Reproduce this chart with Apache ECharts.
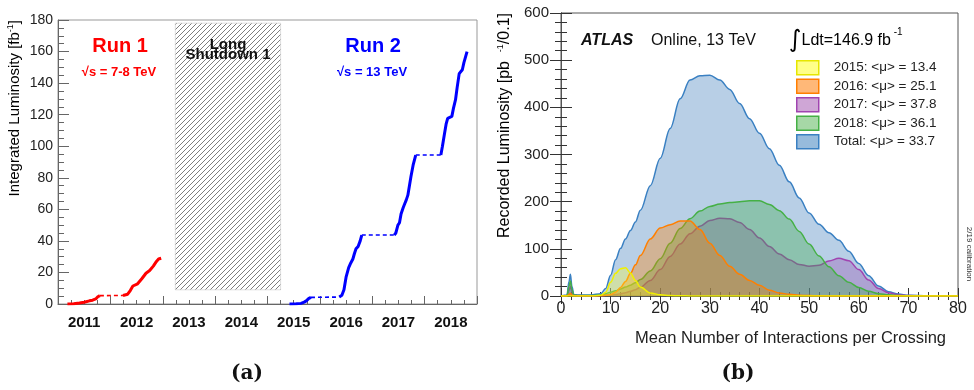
<!DOCTYPE html>
<html>
<head>
<meta charset="utf-8">
<script src="https://cdn.jsdelivr.net/npm/echarts@6/dist/echarts.min.js"></script>
<style>
  html, body { margin: 0; padding: 0; background: #fff; }
  #chart { width: 974px; height: 390px; }
</style>
</head>
<body>
<div id="chart"></div>
<script>
// ---------- Panel (a): cumulative integrated luminosity, [decimal year, fb^-1] ----------
const run1Year2011 = [[2011.18, 0], [2011.30, 0.1], [2011.41, 0.6], [2011.50, 1.1], [2011.60, 2.0],
  [2011.66, 2.4], [2011.72, 3.2], [2011.76, 4.6], [2011.80, 5.3]];
const run1Pause = [[2011.80, 5.3], [2012.24, 5.4]];
const run1Year2012 = [[2012.24, 5.4], [2012.33, 6.2], [2012.38, 8.5], [2012.43, 11.4], [2012.52, 12.8],
  [2012.60, 16.0], [2012.68, 19.5], [2012.75, 21.2], [2012.82, 24.0], [2012.88, 27.0], [2012.92, 28.5], [2012.97, 29.0]];

const run2Year2015 = [[2015.42, 0], [2015.55, 0.1], [2015.64, 0.4], [2015.70, 1.2], [2015.74, 2.0],
  [2015.79, 3.6], [2015.83, 4.2]];
const run2Pause2016 = [[2015.83, 4.2], [2016.37, 4.4]];
const run2Year2016 = [[2016.37, 4.4], [2016.42, 5.5], [2016.46, 9.0], [2016.50, 17.0], [2016.55, 23.0],
  [2016.59, 26.0], [2016.63, 28.5], [2016.66, 32.0], [2016.69, 35.0], [2016.73, 36.5], [2016.77, 40.0], [2016.80, 43.7]];
const run2Pause2017 = [[2016.80, 43.7], [2017.42, 43.7]];
const run2Year2017 = [[2017.42, 43.7], [2017.45, 45.0], [2017.49, 50.0], [2017.52, 51.5], [2017.55, 57.0],
  [2017.59, 61.0], [2017.62, 63.5], [2017.65, 66.0], [2017.68, 69.0], [2017.71, 75.0], [2017.74, 81.0],
  [2017.78, 88.0], [2017.83, 94.4]];
const run2Pause2018 = [[2017.83, 94.4], [2018.31, 94.4]];
const run2Year2018 = [[2018.31, 94.4], [2018.34, 100.0], [2018.38, 108.0], [2018.41, 114.0], [2018.44, 117.7],
  [2018.48, 118.3], [2018.52, 118.9], [2018.55, 124.0], [2018.59, 129.5], [2018.62, 137.0], [2018.66, 146.0],
  [2018.69, 147.2], [2018.72, 148.5], [2018.75, 153.0], [2018.78, 156.5], [2018.81, 160.0]];

// Long Shutdown 1 band: [start year, end year, lower fb^-1, upper fb^-1]
const longShutdown = [[2013.24, 2015.25, 9, 178]];
const yearLabels = ['2011', '2012', '2013', '2014', '2015', '2016', '2017', '2018'];

// ---------- Panel (b): recorded luminosity vs <mu>, pb^-1 / 0.1 ----------
const muBins = [0, 1.2, 1.6, 1.9, 2.2, 2.6, 3.5, 6, 8, 9, 10, 11, 12, 13, 14, 15, 16, 18, 20, 22, 24, 26, 28,
  30, 32, 34, 36, 38, 40, 42, 44, 46, 48, 50, 52, 54, 56, 58, 60, 62, 64, 66, 68, 70, 74, 80];
const lumiTotal = [0, 2, 30, 46, 20, 3, 2, 2, 5, 16, 44, 77, 101, 121, 139, 157, 182, 234, 292, 355, 418, 458, 467,
  468, 458, 438, 408, 376, 345, 312, 277, 242, 208, 176, 152, 134, 118, 95, 69, 43, 21, 9, 4, 1.5, 0.3, 0];
const lumi2018 = [0, 1, 20, 32, 14, 2, 1, 1, 2, 5, 8, 11, 15, 19, 23, 28, 35, 53, 79, 112, 143, 164, 180,
  190, 195, 198, 200, 202, 202, 194, 181, 163, 137, 110, 85, 62, 43, 29, 18, 10, 5, 2.5, 1, 0.4, 0, 0];
const lumi2017 = [0, 1, 12, 21, 9, 1.5, 1, 0.5, 1, 1.5, 2, 3, 5, 7, 10, 13.5, 18.5, 33, 56, 84, 110, 132, 148,
  160, 165, 164, 156, 141, 123, 105, 89, 77, 67, 63, 65, 74, 80, 75, 56, 34, 16, 7, 2.5, 1, 0.2, 0];
const lumi2016 = [0, 0, 3, 6, 2, 0.5, 0.3, 0.3, 0.5, 1.5, 3, 8, 18, 31, 48, 66, 86, 121, 144, 151, 159, 159, 141,
  112, 86, 63, 46, 33, 23, 12, 6.5, 3.5, 1.5, 0.8, 0.4, 0.2, 0, 0, 0, 0, 0, 0, 0, 0, 0, 0];
const lumi2015 = [0, 0, 0, 0, 0, 0, 0, 0, 1.5, 8, 29, 48, 58, 60, 49, 33, 19, 6.5, 2.5, 1, 0.5, 0.2, 0,
  0, 0, 0, 0, 0, 0, 0, 0, 0, 0, 0, 0, 0, 0, 0, 0, 0, 0, 0, 0, 0, 0, 0];

const legendNames = ['2015: <\u03bc> = 13.4', '2016: <\u03bc> = 25.1', '2017: <\u03bc> = 37.8',
  '2018: <\u03bc> = 36.1', 'Total: <\u03bc> = 33.7'];

// ---------- styling ----------
const SANS = '"Liberation Sans", Arial, sans-serif';
const yearStyles = {
  y2015: { line: '#f0f000', fill: 'rgba(255,255,40,0.45)', box: '#ffff88' },
  y2016: { line: '#ff7f00', fill: 'rgba(255,128,0,0.50)', box: '#ffb878' },
  y2017: { line: '#a044b0', fill: 'rgba(150,70,170,0.45)', box: '#cfa6d6' },
  y2018: { line: '#45b045', fill: 'rgba(60,170,70,0.50)', box: '#a6d8a6' },
  total: { line: '#3a80c2', fill: 'rgba(70,130,190,0.55)', box: '#97bbdc' }
};

function pairs(xs, ys) { return xs.map((x, i) => [x, ys[i]]); }

// diagonal hatch tile for the shutdown band
function hatchTile() {
  const n = 5;
  const c = document.createElement('canvas');
  c.width = n; c.height = n;
  const g = c.getContext('2d');
  g.fillStyle = '#ffffff';
  g.fillRect(0, 0, n, n);
  g.strokeStyle = '#6e6e6e';
  g.lineWidth = 0.9;
  g.beginPath();
  g.moveTo(-1, n + 1); g.lineTo(n + 1, -1);
  g.moveTo(-1, 1); g.lineTo(1, -1);
  g.moveTo(n - 1, n + 1); g.lineTo(n + 1, n - 1);
  g.stroke();
  return c;
}
const hatch = { image: hatchTile(), repeat: 'repeat' };

function runLine(data, color, dashed) {
  return {
    type: 'line', xAxisIndex: 0, yAxisIndex: 0, data: data, showSymbol: false, z: 5,
    lineStyle: dashed ? { color: color, width: 1.6, type: [4, 3] } : { color: color, width: 3 },
    silent: true
  };
}
function muArea(name, values, st, z) {
  return {
    type: 'line', name: name, xAxisIndex: 2, yAxisIndex: 1, data: pairs(muBins, values),
    showSymbol: false, smooth: 0.35, smoothMonotone: 'x', z: z,
    lineStyle: { color: st.line, width: 1.5 },
    itemStyle: { color: st.line },
    areaStyle: { color: st.fill, origin: 'start' },
    silent: true
  };
}

const axisGray = '#666';
const tickLabel = { fontFamily: SANS, color: '#222' };

const option = {
  animation: false,
  backgroundColor: '#ffffff',
  grid: [
    { left: 58, top: 20, width: 419, height: 284, show: true, borderColor: '#999', borderWidth: 1, backgroundColor: 'transparent' },
    { left: 561, top: 13, width: 397, height: 283, show: true, borderColor: '#555', borderWidth: 1, backgroundColor: 'transparent' }
  ],
  xAxis: [
    { gridIndex: 0, type: 'value', min: 2011, max: 2019, interval: 1, position: 'bottom',
      axisLine: { lineStyle: { color: axisGray } }, splitLine: { show: false },
      axisTick: { inside: true, length: 8, lineStyle: { color: axisGray } },
      minorTick: { show: true, splitNumber: 4, length: 4, lineStyle: { color: axisGray } },
      axisLabel: { show: false } },
    { gridIndex: 0, type: 'category', data: yearLabels, boundaryGap: true, position: 'bottom',
      axisLine: { show: false }, axisTick: { show: false },
      axisLabel: { margin: 11, fontSize: 15, fontWeight: 'bold', fontFamily: SANS, color: '#111' } },
    { gridIndex: 1, type: 'value', min: 0, max: 80, interval: 10, position: 'bottom',
      axisLine: { lineStyle: { color: '#333' } }, splitLine: { show: false },
      axisTick: { inside: true, length: 8, lineStyle: { color: '#333' } },
      minorTick: { show: true, splitNumber: 5, length: 4, lineStyle: { color: '#333' } },
      axisLabel: Object.assign({ margin: 5, fontSize: 16 }, tickLabel) },
    { gridIndex: 1, type: 'value', min: 0, max: 80, interval: 10, position: 'top',
      axisLine: { lineStyle: { color: '#555' } }, splitLine: { show: false },
      axisTick: { inside: true, length: 8, lineStyle: { color: '#333' } },
      minorTick: { show: true, splitNumber: 5, length: 4, lineStyle: { color: '#333' } },
      axisLabel: { show: false } }
  ],
  yAxis: [
    { gridIndex: 0, type: 'value', min: 0, max: 180, interval: 20,
      axisLine: { show: true, lineStyle: { color: axisGray } }, splitLine: { show: false },
      axisTick: { show: true, inside: true, length: 11, lineStyle: { color: axisGray } },
      minorTick: { show: true, splitNumber: 4, length: 6, lineStyle: { color: axisGray } },
      axisLabel: Object.assign({ margin: 5, fontSize: 14 }, tickLabel) },
    { gridIndex: 1, type: 'value', min: 0, max: 600, interval: 100, position: 'left',
      axisLine: { show: true, lineStyle: { color: '#333' } }, splitLine: { show: false },
      axisTick: { show: true, inside: true, length: 11, lineStyle: { color: '#333' } },
      minorTick: { show: true, splitNumber: 5, length: 6, lineStyle: { color: '#333' } },
      axisLabel: Object.assign({ margin: 12, fontSize: 15 }, tickLabel) },
    { gridIndex: 1, type: 'value', min: 0, max: 600, interval: 100, position: 'right',
      axisLine: { show: true, lineStyle: { color: '#555' } }, splitLine: { show: false },
      axisTick: { show: true, inside: true, length: 11, lineStyle: { color: '#333' } },
      minorTick: { show: true, splitNumber: 5, length: 6, lineStyle: { color: '#333' } },
      axisLabel: { show: false } }
  ],
  legend: {
    orient: 'vertical', left: 791, top: 55, itemWidth: 22, itemHeight: 14, itemGap: 3,
    icon: 'rect', selectedMode: false,
    textStyle: { fontFamily: SANS, fontSize: 13.5, color: '#222', lineHeight: 14, padding: [0, 0, 0, 10] },
    data: [
      { name: legendNames[0], itemStyle: { color: yearStyles.y2015.box, borderColor: '#e6e600', borderWidth: 1.5 } },
      { name: legendNames[1], itemStyle: { color: yearStyles.y2016.box, borderColor: yearStyles.y2016.line, borderWidth: 1.5 } },
      { name: legendNames[2], itemStyle: { color: yearStyles.y2017.box, borderColor: yearStyles.y2017.line, borderWidth: 1.5 } },
      { name: legendNames[3], itemStyle: { color: yearStyles.y2018.box, borderColor: yearStyles.y2018.line, borderWidth: 1.5 } },
      { name: legendNames[4], itemStyle: { color: yearStyles.total.box, borderColor: yearStyles.total.line, borderWidth: 1.5 } }
    ]
  },
  series: [
    {
      type: 'custom', xAxisIndex: 0, yAxisIndex: 0, data: longShutdown, z: 2, silent: true,
      encode: { x: [0, 1], y: [2, 3] },
      renderItem: function (params, api) {
        const a = api.coord([api.value(0), api.value(3)]);
        const b = api.coord([api.value(1), api.value(2)]);
        return {
          type: 'rect',
          shape: { x: a[0], y: a[1], width: b[0] - a[0], height: b[1] - a[1] },
          style: { fill: hatch, stroke: '#c8c8c8', lineWidth: 0.6 }
        };
      }
    },
    runLine(run1Year2011, '#ff0000', false),
    runLine(run1Pause, '#ff0000', true),
    runLine(run1Year2012, '#ff0000', false),
    runLine(run2Year2015, '#0000ff', false),
    runLine(run2Pause2016, '#0000ff', true),
    runLine(run2Year2016, '#0000ff', false),
    runLine(run2Pause2017, '#0000ff', true),
    runLine(run2Year2017, '#0000ff', false),
    runLine(run2Pause2018, '#0000ff', true),
    runLine(run2Year2018, '#0000ff', false),

    muArea(legendNames[4], lumiTotal, yearStyles.total, 3),
    muArea(legendNames[2], lumi2017, yearStyles.y2017, 4),
    muArea(legendNames[3], lumi2018, yearStyles.y2018, 5),
    muArea(legendNames[1], lumi2016, yearStyles.y2016, 6),
    muArea(legendNames[0], lumi2015, yearStyles.y2015, 7)
  ],
  graphic: [
    // panel (a) annotations
    { type: 'text', x: 120, y: 46, style: { text: 'Run 1', font: 'bold 20px ' + SANS, fill: '#ff0000', align: 'center', verticalAlign: 'middle' } },
    { type: 'text', x: 119, y: 72, style: { text: '\u221as = 7-8 TeV', font: 'bold 13px ' + SANS, fill: '#ff0000', align: 'center', verticalAlign: 'middle' } },
    { type: 'text', x: 373, y: 46, style: { text: 'Run 2', font: 'bold 20px ' + SANS, fill: '#0000ff', align: 'center', verticalAlign: 'middle' } },
    { type: 'text', x: 372, y: 72, style: { text: '\u221as = 13 TeV', font: 'bold 13px ' + SANS, fill: '#0000ff', align: 'center', verticalAlign: 'middle' } },
    { type: 'text', x: 228, y: 45, z: 10, style: { text: 'Long', font: 'bold 15px ' + SANS, fill: '#111', align: 'center', verticalAlign: 'middle' } },
    { type: 'text', x: 228, y: 55, z: 10, style: { text: 'Shutdown 1', font: 'bold 15px ' + SANS, fill: '#111', align: 'center', verticalAlign: 'middle' } },
    { type: 'text', x: 15, y: 20, rotation: Math.PI / 2,
      style: { text: '{m|Integrated Luminosity [fb}{s|-1}{m|]}', align: 'right', verticalAlign: 'middle',
        rich: { m: { fontFamily: SANS, fontSize: 15, color: '#222', lineHeight: 18 },
                s: { fontFamily: SANS, fontSize: 9, color: '#222', verticalAlign: 'top' } } } },
    { type: 'text', x: 247, y: 374, style: { text: '(a)', font: 'bold 20px "DejaVu Serif", serif', fill: '#111', align: 'center', verticalAlign: 'middle' } },

    // panel (b) annotations
    { type: 'text', x: 581, y: 41, style: { text: 'ATLAS', font: 'italic bold 16px ' + SANS, fill: '#111', align: 'left', verticalAlign: 'middle' } },
    { type: 'text', x: 651, y: 41, style: { text: 'Online, 13 TeV', font: '16px ' + SANS, fill: '#111', align: 'left', verticalAlign: 'middle' } },
    { type: 'text', x: 789, y: 41,
      style: { text: '{i|\u222b}{m|Ldt=146.9 fb}{s| -1}', align: 'left', verticalAlign: 'middle',
        rich: { i: { fontFamily: '"DejaVu Sans"', fontSize: 24, color: '#111', lineHeight: 28 },
                m: { fontFamily: SANS, fontSize: 16, color: '#111' },
                s: { fontFamily: SANS, fontSize: 10, color: '#111', verticalAlign: 'top' } } } },
    { type: 'text', x: 505, y: 13, rotation: Math.PI / 2,
      style: { text: '{m|Recorded Luminosity [pb  }{s|-1}{m|/0.1]}', align: 'right', verticalAlign: 'middle',
        rich: { m: { fontFamily: SANS, fontSize: 16, color: '#222', lineHeight: 18 },
                s: { fontFamily: SANS, fontSize: 9, color: '#222', verticalAlign: 'top' } } } },
    { type: 'text', x: 946, y: 338, style: { text: 'Mean Number of Interactions per Crossing', font: '16.5px ' + SANS, fill: '#222', align: 'right', verticalAlign: 'middle' } },
    { type: 'text', x: 969, y: 254, rotation: -Math.PI / 2, style: { text: '2/19 calibration', font: '8px ' + SANS, fill: '#333', align: 'center', verticalAlign: 'middle' } },
    { type: 'text', x: 738, y: 374, style: { text: '(b)', font: 'bold 20px "DejaVu Serif", serif', fill: '#111', align: 'center', verticalAlign: 'middle' } }
  ]
};

const chart = echarts.init(document.getElementById('chart'), null, { renderer: 'canvas' });
chart.setOption(option);
</script>
</body>
</html>
